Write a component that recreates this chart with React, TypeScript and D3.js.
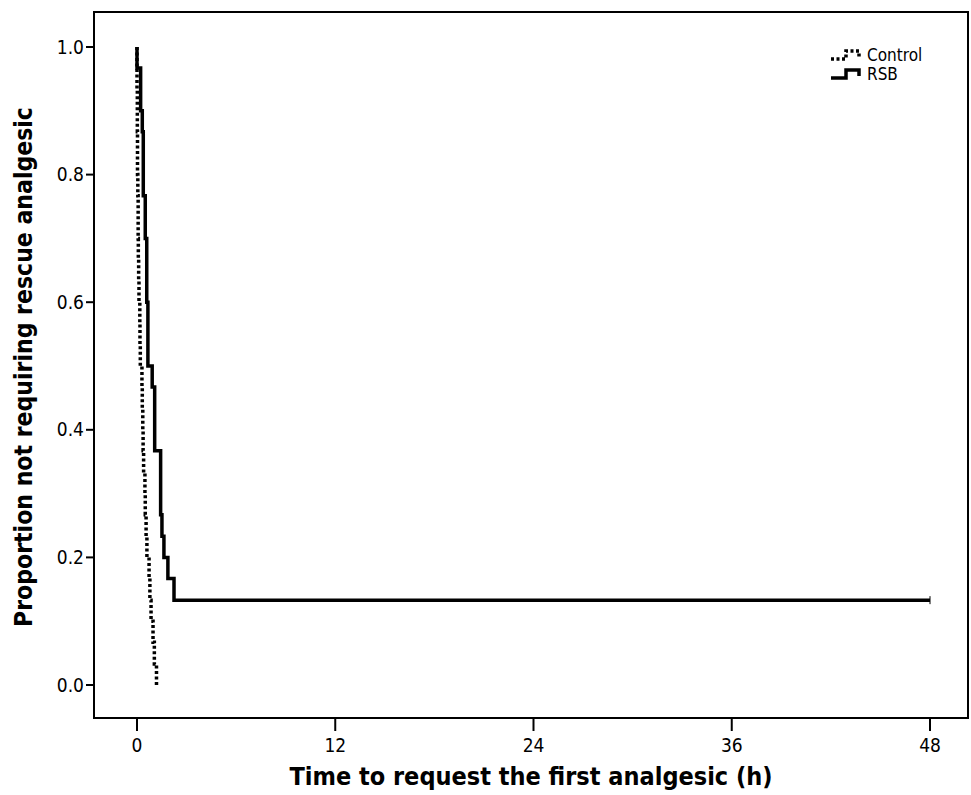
import React, { useEffect, useRef } from 'react';
import * as d3 from 'd3';

// Kaplan-Meier data (time in hours, proportion after the event)
const rsbTimes = [0, 0.22, 0.32, 0.38, 0.5, 0.59, 0.66, 0.92, 1.07, 1.43, 1.51, 1.63, 1.87, 2.24];
const rsbValues = [0.967, 0.9, 0.867, 0.767, 0.7, 0.6, 0.5, 0.467, 0.367, 0.267, 0.233, 0.2, 0.167, 0.133];
const rsbCensorTime = 48;

const controlTimes = [0, 0, 0.02, 0.02, 0.03, 0.03, 0.05, 0.07, 0.07, 0.08, 0.1, 0.12, 0.17, 0.18, 0.2,
    0.3, 0.32, 0.35, 0.37, 0.4, 0.48, 0.5, 0.55, 0.6, 0.73, 0.78, 0.85, 0.97, 1.05, 1.18];
const controlValues = [0.967, 0.933, 0.9, 0.867, 0.833, 0.8, 0.767, 0.733, 0.7, 0.667, 0.633, 0.6, 0.567, 0.533, 0.5,
    0.467, 0.433, 0.4, 0.367, 0.333, 0.3, 0.267, 0.233, 0.2, 0.167, 0.133, 0.1, 0.067, 0.033, 0];

const xTicks = [0, 12, 24, 36, 48];
const yTicks = [0, 0.2, 0.4, 0.6, 0.8, 1.0];
const legendLabels = ['Control', 'RSB'];

const font = '"DejaVu Sans Condensed", "DejaVu Sans", sans-serif';

export default function App() {
    const ref = useRef<SVGSVGElement>(null);

    useEffect(() => {
        const svg = d3.select(ref.current);
        svg.selectAll('*').remove();

        const frame = { left: 94, right: 968, top: 12, bottom: 718 };

        const x = d3.scaleLinear().domain([0, 48]).range([137, 930]);
        const y = d3.scaleLinear().domain([0, 1]).range([685, 47]);

        svg.append('rect')
            .attr('x', frame.left)
            .attr('y', frame.top)
            .attr('width', frame.right - frame.left)
            .attr('height', frame.bottom - frame.top)
            .attr('fill', 'white')
            .attr('stroke', 'black')
            .attr('stroke-width', 2);

        // axes
        const xAxis = svg.append('g');
        xTicks.forEach(t => {
            xAxis.append('line')
                .attr('x1', x(t)).attr('x2', x(t))
                .attr('y1', frame.bottom).attr('y2', frame.bottom + 13)
                .attr('stroke', 'black').attr('stroke-width', 2);
            xAxis.append('text')
                .attr('x', x(t)).attr('y', frame.bottom + 34)
                .attr('text-anchor', 'middle')
                .attr('font-family', font)
                .attr('font-size', 19)
                .text(t);
        });

        const yAxis = svg.append('g');
        yTicks.forEach(t => {
            yAxis.append('line')
                .attr('x1', frame.left - 8).attr('x2', frame.left)
                .attr('y1', y(t)).attr('y2', y(t))
                .attr('stroke', 'black').attr('stroke-width', 2);
            yAxis.append('text')
                .attr('x', frame.left - 10).attr('y', y(t))
                .attr('dy', '0.35em')
                .attr('text-anchor', 'end')
                .attr('font-family', font)
                .attr('font-size', 19)
                .text(d3.format('.1f')(t));
        });

        svg.append('text')
            .attr('x', 531).attr('y', 785)
            .attr('text-anchor', 'middle')
            .attr('font-family', font)
            .attr('font-weight', 'bold')
            .attr('font-size', 25)
            .text('Time to request the first analgesic (h)');

        svg.append('text')
            .attr('transform', 'translate(32, 367) rotate(-90)')
            .attr('text-anchor', 'middle')
            .attr('font-family', font)
            .attr('font-weight', 'bold')
            .attr('font-size', 24.5)
            .text('Proportion not requiring rescue analgesic');

        // survival curves
        const line = d3.line<[number, number]>()
            .x(d => x(d[0]))
            .y(d => y(d[1]))
            .curve(d3.curveStepAfter);

        const controlPts: [number, number][] = [[0, 1], ...controlTimes.map((t, i) => [t, controlValues[i]] as [number, number])];
        const rsbPts: [number, number][] = [[0, 1], ...rsbTimes.map((t, i) => [t, rsbValues[i]] as [number, number]),
            [rsbCensorTime, rsbValues[rsbValues.length - 1]]];

        svg.append('path')
            .attr('d', line(controlPts))
            .attr('fill', 'none')
            .attr('stroke', 'black')
            .attr('stroke-width', 3.5)
            .attr('stroke-dasharray', '3,2.5');

        svg.append('path')
            .attr('d', line(rsbPts))
            .attr('fill', 'none')
            .attr('stroke', 'black')
            .attr('stroke-width', 3.5);

        // censor mark at the end of RSB
        const last = rsbValues[rsbValues.length - 1];
        svg.append('line')
            .attr('x1', x(rsbCensorTime)).attr('x2', x(rsbCensorTime))
            .attr('y1', y(last) - 4).attr('y2', y(last) + 4)
            .attr('stroke', 'black').attr('stroke-width', 1);

        // legend
        const legend = svg.append('g');
        legendLabels.forEach((label, i) => {
            const ly = 55 + i * 19;
            const icon = legend.append('path')
                .attr('d', `M831,${ly + 4}H846V${ly - 4}H859V${ly + 2}`)
                .attr('fill', 'none')
                .attr('stroke', 'black')
                .attr('stroke-width', 3.5);
            if (i === 0) icon.attr('stroke-dasharray', '3,2.5');
            legend.append('text')
                .attr('x', 867).attr('y', ly)
                .attr('dy', '0.35em')
                .attr('font-family', font)
                .attr('font-size', 17)
                .text(label);
        });
    }, []);

    return (
        <svg ref={ref} width={971} height={795} style={{ position: 'absolute', left: 0, top: 0 }} />
    );
}
